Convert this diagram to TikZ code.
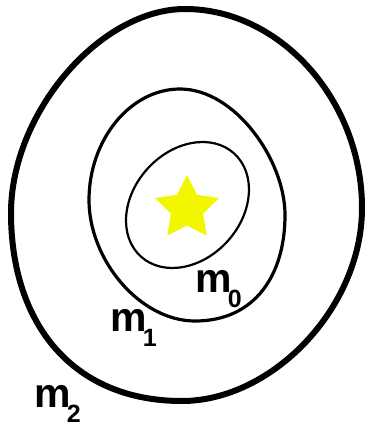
\documentclass[tikz,border=0pt]{standalone}
\usepackage{fontspec}
\setmainfont{Liberation Sans}
\usetikzlibrary{calc}
\definecolor{starcol}{RGB}{242,247,0}
\newcommand{\mlabel}[1]{\fontsize{41}{41}\selectfont\bfseries m\kern-4pt\raisebox{-15pt}{\fontsize{25}{25}\selectfont #1}}
\tikzset{
  masslabel/.style={inner sep=0pt, outer sep=0pt, anchor=base west}
}
\begin{document}
\begin{tikzpicture}[x=1pt, y=-1pt]
\useasboundingbox (0,0) rectangle (367,425);
% outer curve
\coordinate (ot) at (185,9);
\coordinate (ol) at (11,213);
\coordinate (ob) at (182,401);
\coordinate (or) at (362,208);
\draw[line width=6pt] (ot) .. controls (100,9) and (11,113) .. (ol)
  .. controls (11,323) and (72,401) .. (ob)
  .. controls (272,401) and (362,308) .. (or)
  .. controls (362,100) and (280,9) .. (ot) -- cycle;
% middle curve
\coordinate (mt) at (180,89);
\coordinate (ml) at (89,200);
\coordinate (mb) at (195,321);
\coordinate (mr) at (285,215);
\draw[line width=3.2pt] (mt) .. controls (130,89) and (89,140) .. (ml)
  .. controls (89,260) and (140,321) .. (mb)
  .. controls (255,321) and (285,275) .. (mr)
  .. controls (285,160) and (235,89) .. (mt) -- cycle;
% inner curve
\coordinate (ic) at (187.5,205);
\draw[line width=2.2pt, rotate around={47.8:(ic)}] (ic) ellipse [x radius=69.5pt, y radius=54pt];
% star
\coordinate (c) at (187,208.5);
\fill[starcol] ($(c)+(-90:33.5)$) -- ($(c)+(-54:17)$) -- ($(c)+(-18:33.5)$)
 -- ($(c)+(18:17)$) -- ($(c)+(54:33.5)$) -- ($(c)+(90:17)$) -- ($(c)+(126:33.5)$)
 -- ($(c)+(162:17)$) -- ($(c)+(198:33.5)$) -- ($(c)+(234:17)$) -- cycle;
% labels
\node[masslabel] (m0) at (195.4,292) {\mlabel{0}};
\node[masslabel] (m1) at (110.4,331) {\mlabel{1}};
\node[masslabel] (m2) at (34.4,407) {\mlabel{2}};
\end{tikzpicture}
\end{document}
